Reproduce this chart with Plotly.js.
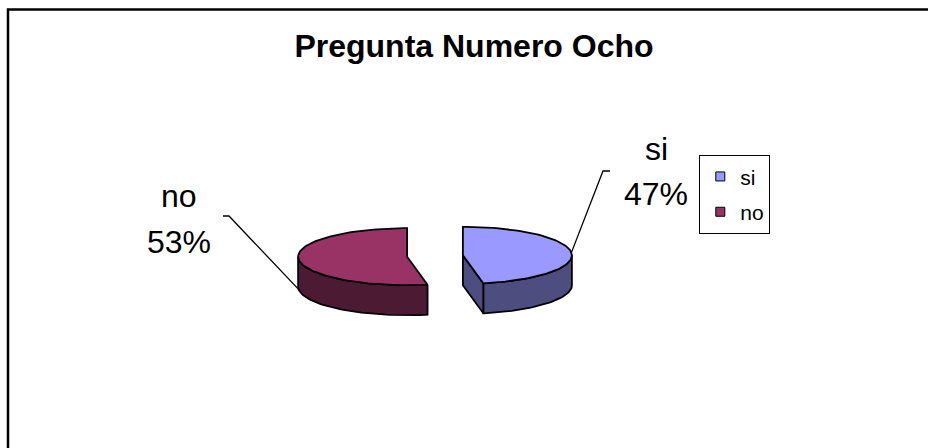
<!DOCTYPE html>
<html>
<head>
<meta charset="utf-8">
<script src="https://cdn.plot.ly/plotly-3.0.1.min.js"></script>
<style>html,body{margin:0;padding:0;background:#fff;}#chart{width:928px;height:448px;}</style>
</head>
<body>
<div id="chart"></div>
<script>
// ---- data ----
const categories = ['si', 'no'];
const values = [47, 53];
const topColors = ['#9999FF', '#993366'];
const sideColors = ['#4D4D80', '#4D1A33'];
const chartTitle = 'Pregunta Numero Ocho';

// ---- style / layout constants (pixel units, axes map 1:1 to pixels) ----
const W = 928, H = 448;
const CX = 435, CY = 256;      // pie centre
const RX = 109, RY = 28.5;     // ellipse radii of the tilted pie
const DEPTH = 30;              // thickness
const EXPLODE = 28;            // explosion distance
const FONT = 'Arial, "Liberation Sans", sans-serif';
// label placement
const labelPos = {
  si: {x: 656, yName: 149, yPct: 194, stub: [[610, 171], [603, 171]], bottom: false},
  no: {x: 179, yName: 196, yPct: 242, stub: [[223, 216], [229, 216]], bottom: true}
};

const total = values.reduce((a, b) => a + b, 0);
const rad = d => d * Math.PI / 180;
function pt(cx, cy, a, dz) {
  return [cx + RX * Math.sin(rad(a)), cy - RY * Math.cos(rad(a)) + dz];
}
function arc(cx, cy, a0, a1, dz) {
  const pts = [];
  const n = Math.max(2, Math.ceil(Math.abs(a1 - a0) / 2));
  for (let i = 0; i <= n; i++) pts.push(pt(cx, cy, a0 + (a1 - a0) * i / n, dz));
  return pts;
}
function poly(pts, fill) {
  const x = pts.map(p => p[0]).concat([pts[0][0]]);
  const y = pts.map(p => p[1]).concat([pts[0][1]]);
  return {type: 'scatter', mode: 'lines', x, y, fill: 'toself', fillcolor: fill,
          line: {color: '#000', width: 1.8}, hoverinfo: 'skip', showlegend: false};
}

const sideTraces = [], topTraces = [], leaderTraces = [], annotations = [];
let start = 0;
categories.forEach((cat, i) => {
  const sweep = values[i] / total * 360;
  const a0 = start, a1 = start + sweep;
  start = a1;
  const bis = (a0 + a1) / 2;
  const cx = CX + EXPLODE * Math.sin(rad(bis));
  const cy = CY - EXPLODE * Math.cos(rad(bis)) * RY / RX;
  // visible outer wall (front half: 90..270)
  const s = Math.max(a0, 90), e = Math.min(a1, 270);
  if (e > s) {
    const top = arc(cx, cy, s, e, 0);
    const bot = arc(cx, cy, e, s, DEPTH);
    sideTraces.push(poly(top.concat(bot), sideColors[i]));
  }
  // visible radial faces
  const faceAt = a => [[cx, cy], pt(cx, cy, a, 0), pt(cx, cy, a, DEPTH), [cx, cy + DEPTH]];
  if (a1 % 360 > 0 && a1 % 360 < 180) sideTraces.push(poly(faceAt(a1), sideColors[i]));
  if (a0 > 180 && a0 < 360) sideTraces.push(poly(faceAt(a0), sideColors[i]));
  // top face
  topTraces.push(poly([[cx, cy]].concat(arc(cx, cy, a0, a1, 0)), topColors[i]));
  // leader line + labels
  const lp = labelPos[cat];
  const target = pt(cx, cy, bis, lp.bottom ? DEPTH : 0);
  const lpts = [lp.stub[0], lp.stub[1], target];
  leaderTraces.push({type: 'scatter', mode: 'lines', x: lpts.map(p => p[0]), y: lpts.map(p => p[1]),
    line: {color: '#000', width: 1.3}, hoverinfo: 'skip', showlegend: false});
  const pct = Math.round(values[i] / total * 100) + '%';
  annotations.push({xref: 'x', yref: 'y', x: lp.x, y: lp.yName, text: cat, showarrow: false,
    xanchor: 'center', yanchor: 'middle', font: {family: FONT, size: 32, color: '#000'}});
  annotations.push({xref: 'x', yref: 'y', x: lp.x, y: lp.yPct, text: pct, showarrow: false,
    xanchor: 'center', yanchor: 'middle', font: {family: FONT, size: 32, color: '#000'}});
});

const legendTraces = categories.map((cat, i) => ({
  type: 'scatter', mode: 'markers', x: [null], y: [null], name: cat, legendgroup: cat,
  marker: {symbol: 'square', size: 9, color: topColors[i], line: {color: '#000', width: 1}},
  hoverinfo: 'skip', showlegend: true
}));

const layout = {
  width: W, height: H,
  margin: {l: 0, r: 0, t: 0, b: 0},
  paper_bgcolor: '#fff', plot_bgcolor: '#fff',
  xaxis: {range: [0, W], visible: false, fixedrange: true},
  yaxis: {range: [H, 0], visible: false, fixedrange: true},
  title: {text: '<b>' + chartTitle + '</b>', x: 474 / W, xanchor: 'center',
          y: 1 - 46 / H, yanchor: 'middle', font: {family: FONT, size: 32, color: '#000'}},
  showlegend: true,
  legend: {x: 699 / W, y: 1 - 155 / H, xanchor: 'left', yanchor: 'top',
           bordercolor: '#000', borderwidth: 1.3, bgcolor: '#fff',
           traceorder: 'grouped', tracegroupgap: 5,
           font: {family: FONT, size: 21, color: '#000'}},
  shapes: [{type: 'rect', xref: 'x', yref: 'y', x0: 8, y0: 9.5, x1: W + 20, y1: H + 20,
            line: {color: '#000', width: 2.5}, fillcolor: 'rgba(0,0,0,0)'}],
  annotations: annotations
};

Plotly.newPlot('chart', sideTraces.concat(topTraces, leaderTraces, legendTraces), layout,
  {staticPlot: true, displayModeBar: false});
</script>
</body>
</html>
